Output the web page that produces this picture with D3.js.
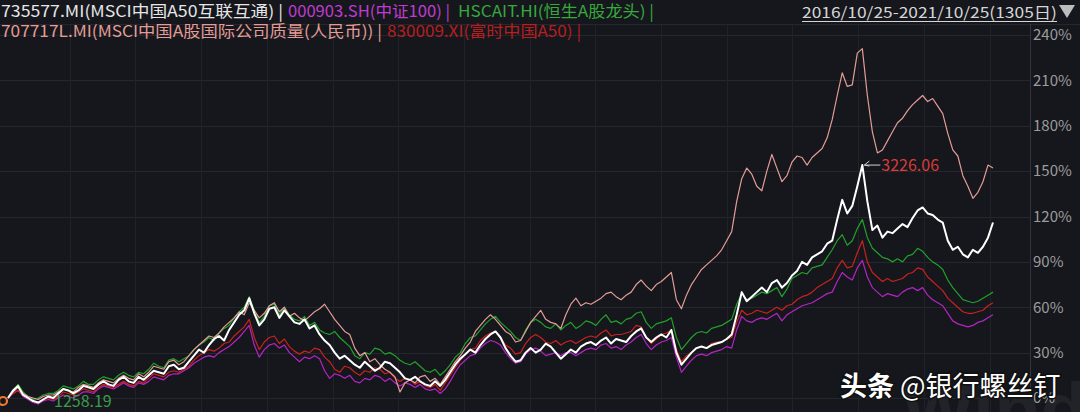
<!DOCTYPE html>
<html><head><meta charset="utf-8">
<script src="https://cdn.jsdelivr.net/npm/d3@7/dist/d3.min.js"></script>
<style>
html,body{margin:0;padding:0;background:#15171c;}
svg{display:block;}
</style></head>
<body>
<svg id="c" width="1080" height="412"></svg>
<script>
// ---- data (cumulative return, %) ----
const seriesNames = ["735577.MI(MSCI中国A50互联互通)", "000903.SH(中证100)", "HSCAIT.HI(恒生A股龙头)", "707717L.MI(MSCI中国A股国际公司质量(人民币))", "830009.XI(富时中国A50)"];
const dateRange = "2016/10/25-2021/10/25(1305日)";
const yTicks = [0, 30, 60, 90, 120, 150, 180, 210, 240];
const peakLabel = "3226.06";
const minLabel = "1258.19";

const msciA50 = [0,5,8,2,0,-2,-3,-1,1,0,3,6,5,3,5,8,7,6,9,11,9,8,12,14,11,10,14,12,15,18,17,16,21,22,19,20,24,28,32,30,
  35,39,41,38,45,50,55,58,66,56,48,52,59,60,53,58,54,50,49,52,46,48,42,38,35,30,26,28,25,22,20,24,21,18,20,24,23,20,17,13,
  12,14,11,9,8,11,8,12,17,22,26,29,32,30,35,39,42,44,40,33,28,24,25,30,33,30,32,36,34,30,26,29,32,30,34,36,37,35,38,40,
  36,39,38,37,41,44,46,40,37,40,42,40,45,30,22,26,30,33,34,33,35,36,37,39,42,55,70,64,67,70,73,70,76,78,73,76,81,84,90,88,
  93,95,97,102,104,118,131,122,127,140,154,130,111,114,106,110,109,112,115,113,119,124,126,122,121,118,116,104,98,100,95,93,98,96,100,106,116];
const csi100 = [0,3,5,1,-1,-3,-4,-2,-1,-2,0,2,1,0,2,4,4,3,6,8,7,6,8,10,8,7,10,9,11,14,13,12,15,16,16,18,20,23,25,27,
  28,27,30,32,34,37,40,44,48,35,27,32,35,36,33,35,30,27,24,27,26,28,26,18,13,16,15,13,15,11,10,13,12,15,14,11,13,10,8,10,
  9,7,9,6,5,6,3,6,11,17,22,25,28,29,33,36,38,37,35,30,26,23,24,29,32,33,31,28,29,30,28,30,30,28,30,32,33,32,35,36,
  33,34,32,35,37,40,42,36,32,35,37,38,40,27,17,21,25,28,29,28,30,31,32,34,33,45,54,51,50,52,53,52,54,56,51,55,57,59,61,62,
  63,65,67,69,70,77,83,80,78,86,91,80,73,70,67,69,68,67,70,72,73,71,73,68,65,63,61,56,51,49,48,47,48,50,51,53,55];
const hsAShare = [0,5,9,4,1,-1,0,2,3,3,5,8,7,6,8,11,9,9,12,14,13,12,15,17,15,14,17,16,19,23,21,20,25,26,24,26,28,32,35,37,
  40,38,43,46,48,53,57,60,67,58,50,54,61,62,55,60,55,52,51,54,48,50,45,43,42,44,40,37,34,28,26,30,29,33,32,29,30,28,25,23,
  22,24,21,18,17,19,15,18,22,27,30,36,40,41,45,49,52,54,50,47,44,40,38,45,50,52,50,47,46,49,45,48,50,46,48,51,50,48,52,55,
  50,51,49,52,53,56,57,50,46,49,50,51,53,40,32,36,40,43,44,43,46,47,48,50,52,62,69,65,66,68,70,69,71,73,67,72,79,81,83,82,
  86,87,88,93,98,104,108,101,104,112,118,106,99,96,93,92,90,92,90,94,95,99,97,93,90,88,85,78,73,69,65,64,63,64,66,68,70];
const msciQuality = [0,4,7,3,1,0,-1,1,2,2,4,6,5,4,7,9,8,7,10,12,11,10,13,15,13,12,16,14,17,21,20,19,24,25,22,24,28,32,35,38,
  41,40,43,47,50,53,57,55,63,58,53,56,61,63,57,60,54,56,53,51,54,57,59,62,57,52,48,44,42,33,28,30,24,26,22,19,17,14,4,10,
  12,10,14,15,11,13,9,14,19,24,28,33,37,44,48,52,55,52,48,44,42,37,38,44,50,54,58,52,50,49,46,55,62,66,61,63,62,64,66,69,
  70,67,65,68,70,75,78,74,71,75,77,80,83,65,59,68,75,80,85,88,91,94,98,104,110,130,145,152,148,140,137,150,161,152,143,147,156,160,159,154,
  159,162,165,172,184,200,215,206,207,228,231,200,176,162,164,170,176,182,185,190,194,197,200,196,198,193,188,175,164,160,147,140,132,136,143,154,152];
const ftseA50 = [0,3,5,2,0,-2,-3,-1,0,-1,1,4,3,2,4,6,5,4,7,9,8,7,9,11,9,8,11,10,13,16,15,14,17,18,17,19,21,25,28,30,
  32,31,33,36,37,41,44,47,52,40,32,37,40,41,36,39,34,31,29,31,30,33,32,27,24,19,17,21,20,17,15,18,17,20,19,16,17,13,11,13,
  12,9,11,8,7,9,5,10,15,20,25,29,32,33,38,41,43,44,40,35,33,29,30,36,40,42,40,37,36,38,35,37,38,36,38,40,41,40,43,45,
  41,42,42,43,44,48,47,40,36,39,42,43,45,32,24,28,30,33,34,33,36,37,37,39,40,50,58,55,56,58,57,56,58,60,58,61,62,65,67,68,
  70,73,75,77,79,86,91,86,87,96,104,90,83,80,77,79,77,78,79,82,83,86,85,80,77,74,71,66,63,60,57,56,56,57,58,61,63];

// ---- layout ----
const W = 1080, H = 412;
const svg = d3.select("#c");
const y = d3.scaleLinear().domain([0, 240]).range([398, 35]);
const xFor = v => d3.scaleLinear().domain([0, v.length - 1]).range([8, 993]);
const axisX = 1030;
const font = "'Noto Sans CJK SC','Noto Sans',sans-serif";

svg.append("rect").attr("width", W).attr("height", H).attr("fill", "#15171c");

// grid
const g = svg.append("g");
g.selectAll("line.h").data(yTicks).join("line")
  .attr("x1", 0).attr("x2", axisX).attr("y1", d => Math.round(y(d)) + 0.5).attr("y2", d => Math.round(y(d)) + 0.5)
  .attr("stroke", "#25272e").attr("stroke-width", 1);
const vgrid = d3.range(1, 16).map(k => 4 + k * 65.7);
g.selectAll("line.v").data(vgrid).join("line")
  .attr("x1", d => Math.round(d) + 0.5).attr("x2", d => Math.round(d) + 0.5).attr("y1", 24).attr("y2", H)
  .attr("stroke", "#202228").attr("stroke-width", 1);
svg.append("line").attr("x1", 0).attr("x2", W).attr("y1", 24.5).attr("y2", 24.5).attr("stroke", "#25272e");
svg.append("line").attr("x1", axisX + 0.5).attr("x2", axisX + 0.5).attr("y1", 24).attr("y2", H).attr("stroke", "#34363d");

// watermark "Wind"
svg.append("text").attr("x", 902).attr("y", 436).attr("font-family", "'Liberation Sans',sans-serif")
  .attr("font-weight", "bold").attr("font-size", 76).attr("fill", "#212329").text("Wind");

// y axis
const yAxis = d3.axisRight(y).tickValues(yTicks).tickFormat(d => d + "%").tickSize(0).tickPadding(3);
const ya = svg.append("g").attr("transform", `translate(${axisX},0)`).call(yAxis);
ya.select(".domain").remove();
ya.selectAll("text").attr("font-family", font).attr("font-size", 15).attr("fill", "#9c9c9c");

// lines
const series = [
  {v: csi100, c: "#b424c4", w: 1.2},
  {v: ftseA50, c: "#c8221f", w: 1.2},
  {v: hsAShare, c: "#22a02a", w: 1.2},
  {v: msciQuality, c: "#e39c96", w: 1.2},
  {v: msciA50, c: "#ffffff", w: 2}
];
svg.append("g").selectAll("path").data(series).join("path")
  .attr("d", d => { const xs = xFor(d.v); return d3.line().x((p, i) => xs(i)).y(p => y(p))(d.v); })
  .attr("fill", "none").attr("stroke", d => d.c).attr("stroke-width", d => d.w)
  .attr("stroke-linejoin", "round");

// peak annotation
const xw = xFor(msciA50);
const pi = msciA50.indexOf(d3.max(msciA50));
const px = xw(pi), py = y(msciA50[pi]);
svg.append("path").attr("d", `M${px + 7},${py - 4} L${px + 2},${py} L${px + 7},${py + 1} M${px + 2},${py} L${px + 18},${py}`)
  .attr("stroke", "#d0d0d0").attr("stroke-width", 1).attr("fill", "none");
svg.append("text").attr("x", px + 19).attr("y", py + 6).attr("font-family", font).attr("font-size", 16)
  .attr("fill", "#d93a3a").text(peakLabel);
// min annotation
svg.append("text").attr("x", 54).attr("y", 407).attr("font-family", font).attr("font-size", 16)
  .attr("fill", "#3c9c4c").text(minLabel);
// start marker
svg.append("circle").attr("cx", 3).attr("cy", 401).attr("r", 4).attr("fill", "#15171c")
  .attr("stroke", "#f07a2a").attr("stroke-width", 2.2);

// legend
const legend = [
  {t: seriesNames[0] + " |", x: 1, y: 17, w: 282, c: "#e6e6e6"},
  {t: seriesNames[1] + " |", x: 288, y: 17, w: 162, c: "#c03cd0"},
  {t: seriesNames[2] + " |", x: 458, y: 17, w: 196, c: "#36a83c"},
  {t: seriesNames[3] + " |", x: 1, y: 37, w: 381, c: "#e39c96"},
  {t: seriesNames[4] + " |", x: 387, y: 37, w: 194, c: "#b81e1e"}
];
svg.append("g").selectAll("text").data(legend).join("text")
  .attr("x", d => d.x).attr("y", d => d.y).attr("textLength", d => d.w).attr("lengthAdjust", "spacingAndGlyphs")
  .attr("font-family", font).attr("font-size", 16).attr("fill", d => d.c).text(d => d.t);

// date range
svg.append("text").attr("x", 802).attr("y", 18).attr("textLength", 255).attr("lengthAdjust", "spacingAndGlyphs")
  .attr("font-family", font).attr("font-size", 15).attr("fill", "#d6d6d6").text(dateRange);
svg.append("line").attr("x1", 802).attr("x2", 1057).attr("y1", 21.5).attr("y2", 21.5).attr("stroke", "#d6d6d6");
svg.append("path").attr("d", "M1059,5 L1075,5 L1067,18 Z").attr("fill", "#bdbdbd");

// watermark text
svg.append("text").attr("x", 840).attr("y", 396).attr("font-family", font).attr("font-size", 27)
  .attr("fill", "#ffffff").attr("stroke", "#111").attr("paint-order", "stroke").attr("stroke-width", 3)
  .html('<tspan font-weight="bold">头条</tspan> @银行螺丝钉');
</script>
</body></html>
